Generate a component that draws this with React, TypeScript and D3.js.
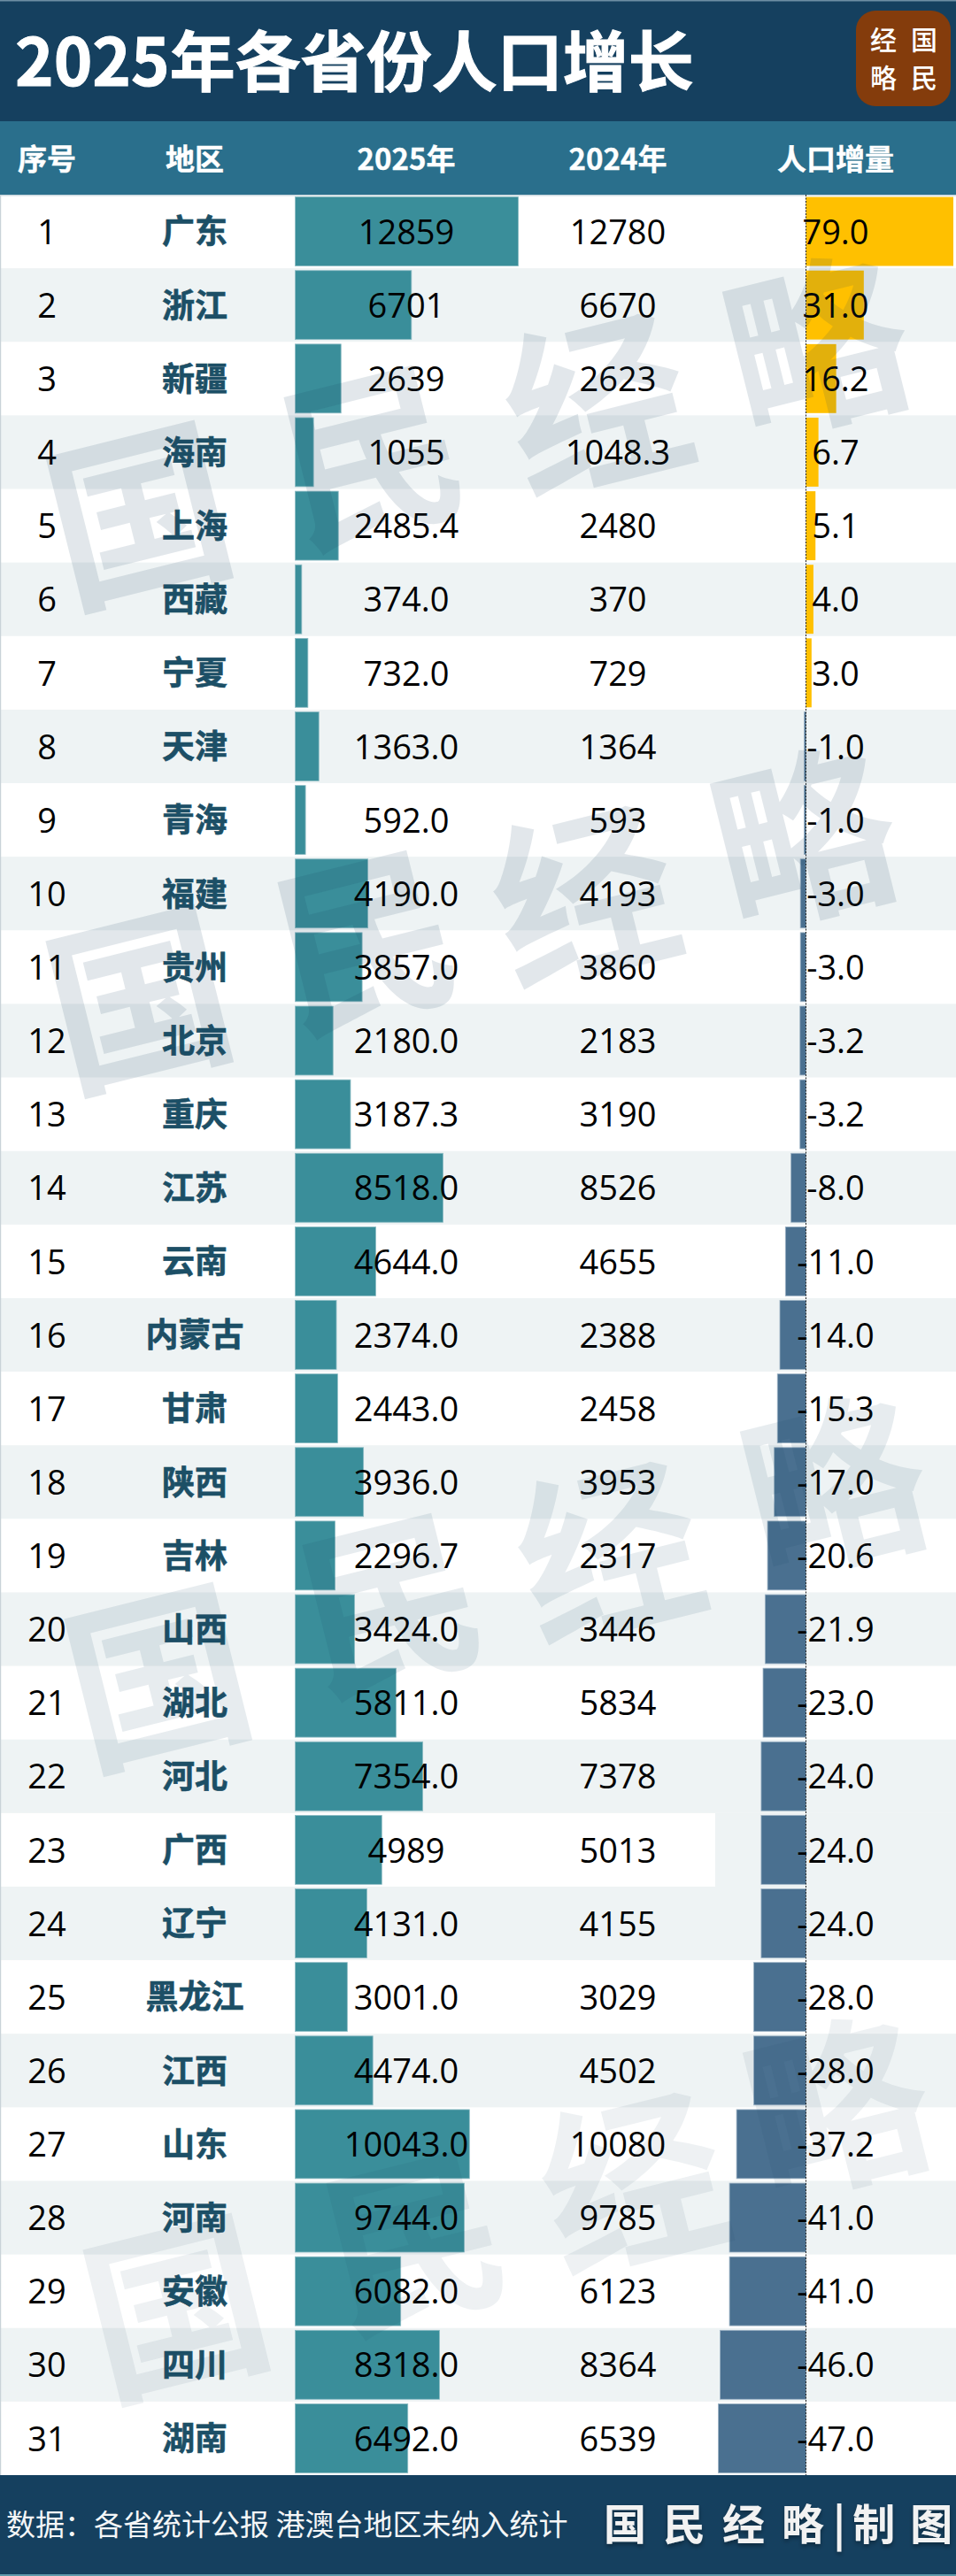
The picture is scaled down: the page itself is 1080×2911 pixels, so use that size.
import React from "react";
import * as d3 from "d3";

const regions = ["广东","浙江","新疆","海南","上海","西藏","宁夏","天津","青海","福建","贵州","北京","重庆","江苏","云南","内蒙古","甘肃","陕西","吉林","山西","湖北","河北","广西","辽宁","黑龙江","江西","山东","河南","安徽","四川","湖南"];
const pop2025 = [12859,6701,2639,1055,2485.4,374,732,1363,592,4190,3857,2180,3187.3,8518,4644,2374,2443,3936,2296.7,3424,5811,7354,4989,4131,3001,4474,10043,9744,6082,8318,6492];
const label2025 = ["12859","6701","2639","1055","2485.4","374.0","732.0","1363.0","592.0","4190.0","3857.0","2180.0","3187.3","8518.0","4644.0","2374.0","2443.0","3936.0","2296.7","3424.0","5811.0","7354.0","4989","4131.0","3001.0","4474.0","10043.0","9744.0","6082.0","8318.0","6492.0"];
const label2024 = ["12780","6670","2623","1048.3","2480","370","729","1364","593","4193","3860","2183","3190","8526","4655","2388","2458","3953","2317","3446","5834","7378","5013","4155","3029","4502","10080","9785","6123","8364","6539"];
const delta = [79,31,16.2,6.7,5.1,4,3,-1,-1,-3,-3,-3.2,-3.2,-8,-11,-14,-15.3,-17,-20.6,-21.9,-23,-24,-24,-24,-28,-28,-37.2,-41,-41,-46,-47];
const headers = ["序号","地区","2025年","2024年","人口增量"];
const title = "2025年各省份人口增长";
const footnote = "数据：各省统计公报 港澳台地区未纳入统计";
const watermarkChars = ["国","民","经","略"];
const watermarkSets = [
  { xs: [158,420,675,923], ys: [585,518,460,394], op: 0.125 },
  { xs: [158,413,661,909], ys: [1132,1066,1016,950], op: 0.125 },
  { xs: [179,441,689,943], ys: [1898,1815,1757,1682], op: 0.1 },
  { xs: [200,468,716,946], ys: [2611,2536,2470,2384], op: 0.075 },
];

const W = 1080, H = 2911;
const rowsTop = 220, rowsBottom = 2797;
const CJK = "'Noto Sans CJK SC', 'Noto Sans', sans-serif";
const NUM = "'Open Sans', 'Noto Sans', sans-serif";
const col = { seq: 53, region: 220, y25: 459, y24: 698, delta: 944 };
const navy = "#15405f", sub = "#2a6f8c", stripe = "#eef3f4", regionInk = "#1c4f66";

export default function App() {
  const y = d3.scaleBand<number>().domain(d3.range(regions.length)).range([rowsTop, rowsBottom]);
  const rowH = y.bandwidth();
  const xPop = d3.scaleLinear().domain([0, d3.max(pop2025) as number]).range([333.5, 585.5]);
  const xDelta = d3.scaleLinear().domain([0, d3.max(delta) as number]).range([910.5, 1077]);
  const whiteEnd = 808;

  return (
    <svg width={W} height={H} viewBox={`0 0 ${W} ${H}`} style={{ position: "absolute", left: 0, top: 0, display: "block", background: "#fff" }}>
      <defs>
        <filter id="sig" x="-5%" y="-20%" width="110%" height="150%">
          <feDropShadow dx="0" dy="3" stdDeviation="2.5" floodColor="#000" floodOpacity="0.35" />
        </filter>
      </defs>
      <rect x={0} y={0} width={W} height={137} fill={navy} />
      <rect x={0} y={0} width={W} height={1.5} fill="#6d8ea3" />
      <text x={17} y={70} dy="0.36em" fontFamily={CJK} fontWeight={700} fontSize={74} fill="#fff" stroke="#fff" strokeWidth={1}>{title}</text>

      <rect x={967} y={12} width={107} height={108} rx={22} fill="#843c0c" />
      {watermarkChars.map((c, i) => (
        <text key={c} x={i < 2 ? 1044 : 998} y={i === 0 || i === 2 ? 45 : 88} dy="0.36em" textAnchor="middle"
          fontFamily={CJK} fontWeight={500} fontSize={30} fill="#fff">{c}</text>
      ))}

      <rect x={0} y={137} width={W} height={83} fill={sub} />
      {headers.map((h, i) => (
        <text key={h} x={[col.seq, col.region, col.y25, col.y24, col.delta][i]} y={180} dy="0.36em" textAnchor="middle"
          fontFamily={CJK} fontWeight={700} fontSize={33} fill="#fff" stroke="#fff" strokeWidth={0.4}>{h}</text>
      ))}

      {regions.map((_, i) => (
        i % 2 === 1
          ? <rect key={i} x={0} y={y(i)} width={W} height={rowH} fill={stripe} />
          : regions[i] === "广西"
            ? <rect key={i} x={whiteEnd} y={y(i)} width={W - whiteEnd} height={rowH} fill={stripe} />
            : null
      ))}
      <rect x={0} y={220} width={W} height={1.5} fill="#c9d8de" />
      <rect x={0} y={220} width={1.2} height={rowsBottom - 220} fill="#c9d3d8" />

      {pop2025.map((v, i) => (
        <rect key={i} x={xPop(0)} y={(y(i) as number) + 2.6} width={xPop(v) - xPop(0)} height={rowH - 5.2}
          fill="#3a8e9a" stroke="#8dbcc4" strokeWidth={0.8} />
      ))}
      {delta.map((v, i) => {
        const x0 = Math.min(xDelta(0), xDelta(v));
        const w = Math.abs(xDelta(v) - xDelta(0));
        return (
          <rect key={i} x={x0} y={(y(i) as number) + 2.6} width={w} height={rowH - 5.2}
            fill={v >= 0 ? "#ffc000" : "#4a7090"} stroke={v >= 0 ? "none" : "#9db3c5"} strokeWidth={0.8} />
        );
      })}
      <line x1={910.5} x2={910.5} y1={rowsTop} y2={rowsBottom} stroke="#222" strokeWidth={1} strokeDasharray="2 1.5" />

      {regions.map((r, i) => {
        const cy = (y(i) as number) + rowH / 2 + 0.5;
        return (
          <g key={r}>
            <text x={col.seq} y={cy} dy="0.36em" textAnchor="middle" fontFamily={NUM} fontSize={38} fill="#000">{i + 1}</text>
            <text x={col.region} y={cy} dy="0.36em" textAnchor="middle" fontFamily={CJK} fontWeight={700} fontSize={37} fill={regionInk} stroke={regionInk} strokeWidth={0.6}>{r}</text>
            <text x={col.y25} y={cy} dy="0.36em" textAnchor="middle" fontFamily={NUM} fontSize={38} fill="#000">{label2025[i]}</text>
            <text x={col.y24} y={cy} dy="0.36em" textAnchor="middle" fontFamily={NUM} fontSize={38} fill="#000">{label2024[i]}</text>
            <text x={col.delta} y={cy} dy="0.36em" textAnchor="middle" fontFamily={NUM} fontSize={38} fill="#000">{delta[i].toFixed(1)}</text>
          </g>
        );
      })}

      {watermarkSets.map((s, k) => watermarkChars.map((c, i) => (
        <text key={`${k}-${c}`} textAnchor="middle" dy="0.36em" transform={`translate(${s.xs[i]},${s.ys[i]}) rotate(-14)`}
          fontFamily={CJK} fontWeight={700} fontSize={205} fill={navy} fillOpacity={s.op} style={{ pointerEvents: "none" }}>{c}</text>
      )))}

      <rect x={0} y={rowsBottom} width={W} height={H - rowsBottom} fill={navy} />
      <rect x={0} y={H - 2} width={W} height={2} fill="#5f9aab" />
      <text x={7} y={2853} dy="0.36em" fontFamily={CJK} fontSize={33} fill="#f4f6f7">{footnote}</text>
      <text x={682} y={2853} dy="0.36em" fontFamily={CJK} fontWeight={700} fontSize={48} fill="#f2f2f2" letterSpacing={19} filter="url(#sig)">
        <tspan>国民经</tspan>
        <tspan letterSpacing={10}>略</tspan>
        <tspan letterSpacing={8}>|</tspan>
        <tspan letterSpacing={17}>制</tspan>
        <tspan letterSpacing={0}>图</tspan>
      </text>
    </svg>
  );
}
